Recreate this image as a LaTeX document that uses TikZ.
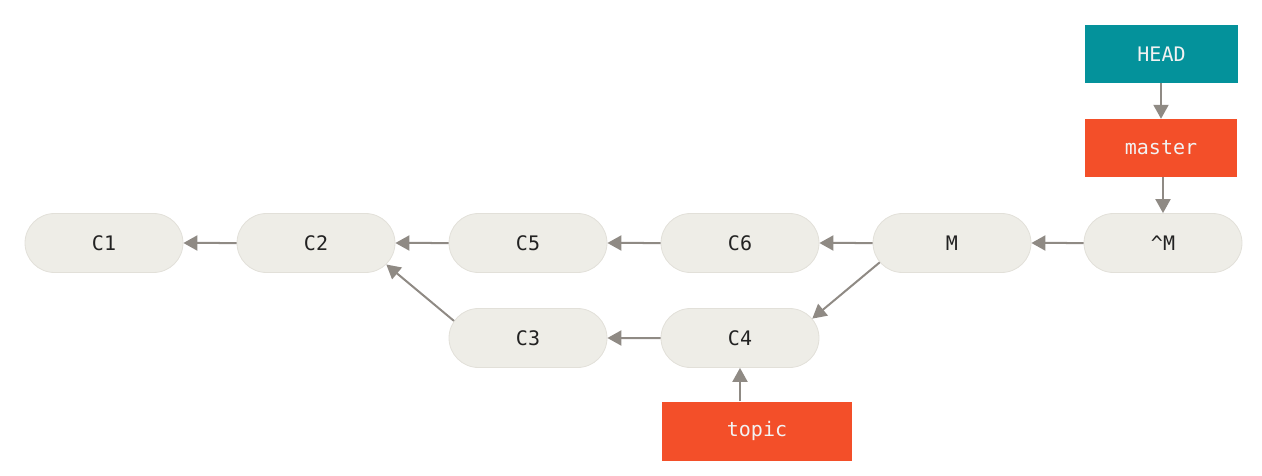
\documentclass[tikz,border=0pt]{standalone}
\usepackage{fontspec}
\setmonofont{DejaVu Sans Mono}
\usetikzlibrary{shapes.misc,arrows.meta}
\definecolor{commitfill}{HTML}{EEEDE7}
\definecolor{commitdraw}{HTML}{E2E0D9}
\definecolor{arrowgray}{HTML}{8F8A84}
\definecolor{headteal}{HTML}{04929B}
\definecolor{branchorange}{HTML}{F34F29}
\definecolor{textdark}{HTML}{222222}
\tikzset{
  commit/.style={rounded rectangle, fill=commitfill, draw=commitdraw, line width=0.8pt,
    minimum width=158pt, minimum height=59pt, inner sep=0pt, text=textdark,
    font=\ttfamily\fontsize{20}{23}\selectfont},
  refbox/.style={rectangle, draw=none, minimum height=58pt, inner sep=0pt, text=white!95!black,
    font=\ttfamily\fontsize{20}{23}\selectfont},
  link/.style={draw=arrowgray, line width=2pt, -{Triangle[length=14pt,width=15pt]}}
}
\begin{document}
\begin{tikzpicture}[x=1pt,y=-1pt]
\useasboundingbox (0,0) rectangle (1262,476);
\node[commit] (C1) at (104,243) {C1};
\node[commit] (C2) at (316,243) {C2};
\node[commit] (C5) at (528,243) {C5};
\node[commit] (C6) at (740,243) {C6};
\node[commit] (M) at (952,243) {M};
\node[commit] (RM) at (1163,243) {\textasciicircum M};
\node[commit] (C3) at (528,338) {C3};
\node[commit] (C4) at (740,338) {C4};
\node[refbox, fill=headteal, minimum width=153pt] (HEAD) at (1161.5,54) {HEAD};
\node[refbox, fill=branchorange, minimum width=152pt] (master) at (1161,148) {master};
\node[refbox, fill=branchorange, minimum width=190pt, minimum height=59pt] (topic) at (757,431) {topic};
\draw[link] (C2) -- (C1);
\draw[link] (C5) -- (C2);
\draw[link] (C6) -- (C5);
\draw[link] (M) -- (C6);
\draw[link] (RM) -- (M);
\draw[link] (C4) -- (C3);
\draw[link] (C3.167) -- (C2.343);
\draw[link] (M.195) -- (C4.15);
\draw[link] (HEAD.south -| master.north) -- (master.north);
\draw[link] (master.south -| RM.north) -- (RM.north);
\draw[link] (topic.north -| C4.south) -- (C4.south);
\end{tikzpicture}
\end{document}
